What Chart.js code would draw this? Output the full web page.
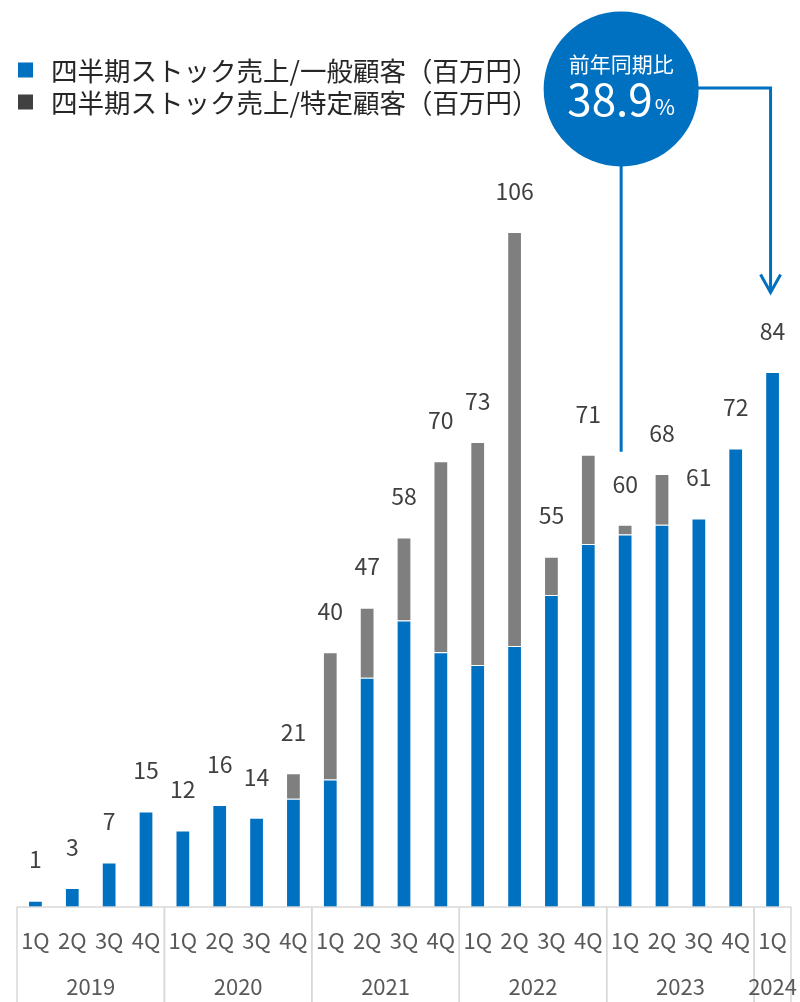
<!DOCTYPE html>
<html lang="ja">
<head>
<meta charset="utf-8">
<script src="https://cdn.jsdelivr.net/npm/chart.js@4/dist/chart.umd.min.js"></script>
<style>
  html, body { margin: 0; padding: 0; background: #fff; }
  #wrap { width: 800px; height: 1002px; position: relative; }
</style>
</head>
<body>
<div id="wrap"><canvas id="stockChart"></canvas></div>
<script>
// quarterly stock revenue, million yen
const quarterLabels = ['1Q', '2Q', '3Q', '4Q', '1Q', '2Q', '3Q', '4Q', '1Q', '2Q', '3Q', '4Q',
  '1Q', '2Q', '3Q', '4Q', '1Q', '2Q', '3Q', '4Q', '1Q'];
const quarterYears = ['2019', '2019', '2019', '2019', '2020', '2020', '2020', '2020',
  '2021', '2021', '2021', '2021', '2022', '2022', '2022', '2022',
  '2023', '2023', '2023', '2023', '2024'];
const generalSales = [1, 3, 7, 15, 12, 16, 14, 17, 20, 36, 45, 40, 38, 41, 49, 57, 58.5, 60, 61, 72, 84];
const specificSales = [0, 0, 0, 0, 0, 0, 0, 4, 20, 11, 13, 30, 35, 65, 6, 14, 1.5, 8, 0, 0, 0];
const seriesNames = ['四半期ストック売上/一般顧客（百万円）', '四半期ストック売上/特定顧客（百万円）'];
const yoyLabel = '前年同期比';
const yoyValue = '38.9';

const BLUE = '#0070C0';
const GRAY = '#7F7F7F';
const LEGEND_GRAY = '#404040';
const JP_FONT = '"Noto Sans CJK JP", "Noto Sans", sans-serif';

// legend drawn by hand so the markers sit right at the left edge
const legendPlugin = {
  id: 'topLegend',
  afterDraw(chart) {
    const ctx = chart.ctx;
    const colors = [BLUE, LEGEND_GRAY];
    ctx.save();
    ctx.font = '26.5px ' + JP_FONT;
    ctx.textBaseline = 'middle';
    seriesNames.forEach((name, i) => {
      const y = 70 + i * 32;
      ctx.fillStyle = colors[i];
      ctx.fillRect(18, y - 7.5, 15, 15);
      ctx.fillStyle = '#262626';
      ctx.fillText(name, 51, y + 1);
    });
    ctx.restore();
  }
};

// total labels above each stacked bar
const totalsPlugin = {
  id: 'totals',
  afterDatasetsDraw(chart) {
    const ctx = chart.ctx;
    const x = chart.scales.x;
    const y = chart.scales.y;
    ctx.save();
    ctx.font = '23px ' + JP_FONT;
    ctx.fillStyle = '#404040';
    ctx.textAlign = 'center';
    ctx.textBaseline = 'middle';
    generalSales.forEach((v, i) => {
      const total = v + specificSales[i];
      ctx.fillText(String(Math.round(total)), x.getPixelForValue(i), y.getPixelForValue(total) - 41);
    });
    ctx.restore();
  }
};

// boxed two-level category axis: quarter row plus year row
const yearAxisPlugin = {
  id: 'yearAxis',
  afterDraw(chart) {
    const ctx = chart.ctx;
    const x = chart.scales.x;
    const area = chart.chartArea;
    const step = x.getPixelForValue(1) - x.getPixelForValue(0);
    const bottom = chart.height;
    ctx.save();
    ctx.strokeStyle = '#D9D9D9';
    ctx.lineWidth = 1.5;
    ctx.beginPath();
    ctx.moveTo(area.left, area.bottom);
    ctx.lineTo(area.right, area.bottom);
    ctx.stroke();

    const groups = [];
    quarterYears.forEach((yr, i) => {
      const g = groups[groups.length - 1];
      if (g && g.year === yr) g.end = i;
      else groups.push({ year: yr, start: i, end: i });
    });

    ctx.font = '22px ' + JP_FONT;
    ctx.fillStyle = '#595959';
    ctx.textAlign = 'center';
    ctx.textBaseline = 'middle';
    groups.forEach(g => {
      const left = x.getPixelForValue(g.start) - step / 2;
      const right = x.getPixelForValue(g.end) + step / 2;
      ctx.beginPath();
      ctx.moveTo(left, area.bottom);
      ctx.lineTo(left, bottom);
      ctx.moveTo(right, area.bottom);
      ctx.lineTo(right, bottom);
      ctx.stroke();
      ctx.fillText(g.year, (left + right) / 2, area.bottom + 80);
    });
    ctx.restore();
  }
};

// year-over-year bubble with its two connectors
const calloutPlugin = {
  id: 'yoyCallout',
  afterDraw(chart) {
    const ctx = chart.ctx;
    const x = chart.scales.x;
    const y = chart.scales.y;
    const cx = x.getPixelForValue(16) - 4;
    const cy = 89;
    const r = 77.5;
    const arrowX = x.getPixelForValue(20) - 2;
    const tipY = y.getPixelForValue(96.5);

    ctx.save();
    ctx.strokeStyle = BLUE;
    ctx.lineWidth = 3;
    ctx.beginPath();
    ctx.moveTo(cx, cy + r - 2);
    ctx.lineTo(cx, y.getPixelForValue(71.5));
    ctx.stroke();

    ctx.beginPath();
    ctx.moveTo(cx + r - 2, cy - 1);
    ctx.lineTo(arrowX, cy - 1);
    ctx.lineTo(arrowX, tipY);
    ctx.stroke();

    ctx.beginPath();
    ctx.moveTo(arrowX - 10, tipY - 18);
    ctx.lineTo(arrowX, tipY);
    ctx.lineTo(arrowX + 10, tipY - 18);
    ctx.stroke();

    ctx.fillStyle = BLUE;
    ctx.beginPath();
    ctx.arc(cx, cy, r, 0, Math.PI * 2);
    ctx.fill();

    ctx.fillStyle = '#fff';
    ctx.textBaseline = 'middle';
    ctx.textAlign = 'center';
    ctx.font = '21px ' + JP_FONT;
    ctx.fillText(yoyLabel, cx, cy - 25);

    ctx.font = '44px ' + JP_FONT;
    const numW = ctx.measureText(yoyValue).width;
    ctx.font = '22px ' + JP_FONT;
    const pctW = ctx.measureText('%').width;
    const startX = cx - (numW + pctW + 2) / 2;
    ctx.textAlign = 'left';
    ctx.font = '44px ' + JP_FONT;
    ctx.fillText(yoyValue, startX, cy + 10);
    ctx.font = '22px ' + JP_FONT;
    ctx.fillText('%', startX + numW + 2, cy + 18);
    ctx.restore();
  }
};

new Chart(document.getElementById('stockChart'), {
  type: 'bar',
  data: {
    labels: quarterLabels,
    datasets: [
      {
        label: seriesNames[0],
        data: generalSales,
        backgroundColor: BLUE,
        borderColor: 'rgba(255,255,255,0.45)',
        borderWidth: 1,
        categoryPercentage: 0.4,
        barPercentage: 1
      },
      {
        label: seriesNames[1],
        data: specificSales,
        backgroundColor: GRAY,
        borderColor: 'rgba(255,255,255,0.45)',
        borderWidth: 1,
        categoryPercentage: 0.4,
        barPercentage: 1
      }
    ]
  },
  options: {
    responsive: true,
    maintainAspectRatio: false,
    animation: false,
    layout: {
      padding: { top: 130, left: 17, right: 9, bottom: 0 }
    },
    plugins: {
      legend: { display: false },
      tooltip: { enabled: false }
    },
    scales: {
      x: {
        stacked: true,
        grid: { display: false, drawTicks: false },
        border: { display: false },
        ticks: {
          color: '#595959',
          font: { size: 22, family: JP_FONT },
          padding: 20,
          maxRotation: 0,
          autoSkip: false
        },
        afterFit(scale) {
          // keep the plot edges fixed; tick padding otherwise pushes them inward
          scale.height = 95;
          scale.paddingLeft = 0;
          scale.paddingRight = 0;
        }
      },
      y: {
        stacked: true,
        display: false,
        min: 0,
        max: 122
      }
    }
  },
  plugins: [legendPlugin, totalsPlugin, yearAxisPlugin, calloutPlugin]
});
</script>
</body>
</html>
